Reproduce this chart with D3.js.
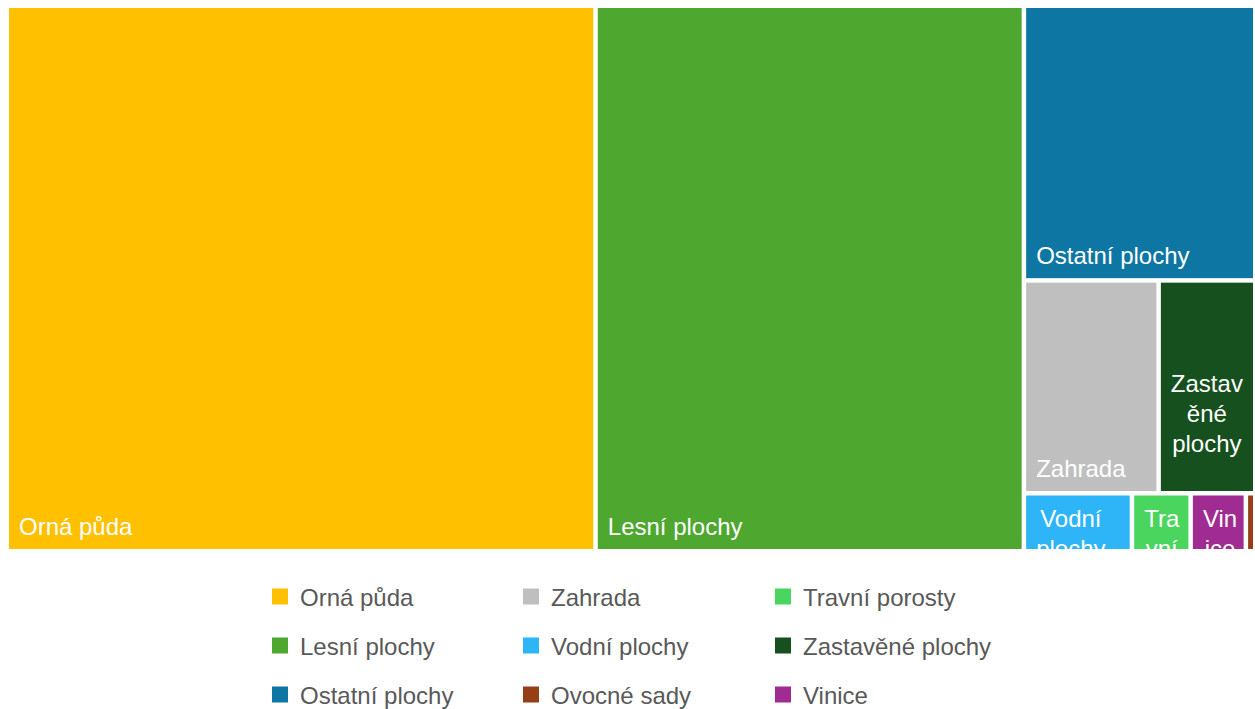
<!DOCTYPE html>
<html lang="cs">
<head>
<meta charset="utf-8">
<title>Struktura půdního fondu</title>
<script src="https://cdn.jsdelivr.net/npm/d3@7"></script>
<style>
  html, body { margin: 0; padding: 0; background: #ffffff; }
  svg { display: block; }
  text { font-family: "Liberation Sans", Arial, sans-serif; }
</style>
</head>
<body>
<svg id="chart" width="1255" height="709"></svg>
<script>
// Land use categories (legend order) and their shares of total area, in %
const categories = [
  "Orná půda", "Lesní plochy", "Ostatní plochy",
  "Zahrada", "Vodní plochy", "Ovocné sady",
  "Travní porosty", "Zastavěné plochy", "Vinice"
];
const shares = [47.16, 34.31, 9.33, 4.21, 0.92, 0.08, 0.50, 3.02, 0.47];
const colors = [
  "#FFC000", "#4EA72E", "#0E76A2",
  "#BFBFBF", "#2DB5F8", "#963F17",
  "#4AD55E", "#16501E", "#A02B93"
];

const W = 1255, H = 709;
const plot = { x: 9, y: 8, w: 1244, h: 541 };
const FONT_SIZE = 24, LINE_H = 30, PAD = 9;

const svg = d3.select("#chart");

const root = d3.hierarchy({
    children: categories.map((name, i) => ({ name, value: shares[i], color: colors[i] }))
  })
  .sum(d => d.value || 0)
  .sort((a, b) => b.value - a.value);

d3.treemap()
  .tile(d3.treemapSquarify)
  .size([plot.w, plot.h])
  .paddingInner(4.5)
  .round(false)(root);

const g = svg.append("g").attr("transform", `translate(${plot.x},${plot.y})`);

// text measuring for label wrapping
const ctx = document.createElement("canvas").getContext("2d");
ctx.font = `${FONT_SIZE}px "Liberation Sans", Arial, sans-serif`;
const measure = s => ctx.measureText(s).width;

function wrap(name, avail) {
  const lines = [];
  let cur = "";
  for (const w of name.split(" ")) {
    const test = cur ? cur + " " + w : w;
    if (measure(test) <= avail) { cur = test; continue; }
    if (cur) { lines.push(cur); cur = ""; }
    let piece = "";
    for (const ch of w) {
      if (!piece || measure(piece + ch) <= avail) piece += ch;
      else { lines.push(piece); piece = ch; }
    }
    cur = piece;
  }
  if (cur) lines.push(cur);
  return lines;
}

const leaves = g.selectAll("g.cell")
  .data(root.leaves())
  .join("g")
  .attr("class", "cell");

leaves.append("clipPath")
  .attr("id", (d, i) => "clip-" + i)
  .append("rect")
  .attr("x", d => d.x0).attr("y", d => d.y0)
  .attr("width", d => d.x1 - d.x0).attr("height", d => d.y1 - d.y0);

leaves.append("rect")
  .attr("x", d => d.x0).attr("y", d => d.y0)
  .attr("width", d => d.x1 - d.x0).attr("height", d => d.y1 - d.y0)
  .attr("fill", d => d.data.color);

leaves.each(function (d, i) {
  const cw = d.x1 - d.x0;
  if (cw < 20) return;
  const lines = wrap(d.data.name, cw - 2 * PAD + 2);
  const n = lines.length;
  const t = d3.select(this).append("text")
    .attr("clip-path", `url(#clip-${i})`)
    .attr("fill", "#ffffff")
    .attr("font-size", FONT_SIZE);
  if (n === 1) {
    t.append("tspan")
      .attr("x", d.x0 + PAD + 1)
      .attr("y", d.y1 - 14)
      .text(lines[0]);
  } else {
    const blockW = d3.max(lines, measure);
    let first = d.y1 - 39 - (n - 1) * LINE_H;
    first = Math.max(first, d.y0 + 31);
    t.attr("text-anchor", "middle");
    lines.forEach((ln, k) => {
      t.append("tspan")
        .attr("x", d.x0 + PAD + 1 + blockW / 2)
        .attr("y", first + k * LINE_H)
        .text(ln);
    });
  }
});

// legend: three columns, filled column by column
const legendX = d3.scaleOrdinal().domain([0, 1, 2]).range([272, 523, 775]);
const legendY = d3.scaleOrdinal().domain([0, 1, 2]).range([596.5, 645.5, 694.5]);

const legend = svg.append("g")
  .selectAll("g")
  .data(categories.map((name, i) => ({ name, color: colors[i], col: Math.floor(i / 3), row: i % 3 })))
  .join("g")
  .attr("transform", d => `translate(${legendX(d.col)},${legendY(d.row)})`);

legend.append("rect")
  .attr("x", 0).attr("y", -8)
  .attr("width", 16).attr("height", 16)
  .attr("fill", d => d.color);

legend.append("text")
  .attr("x", 28)
  .attr("y", 9)
  .attr("font-size", FONT_SIZE)
  .attr("fill", "#595959")
  .text(d => d.name);
</script>
</body>
</html>
